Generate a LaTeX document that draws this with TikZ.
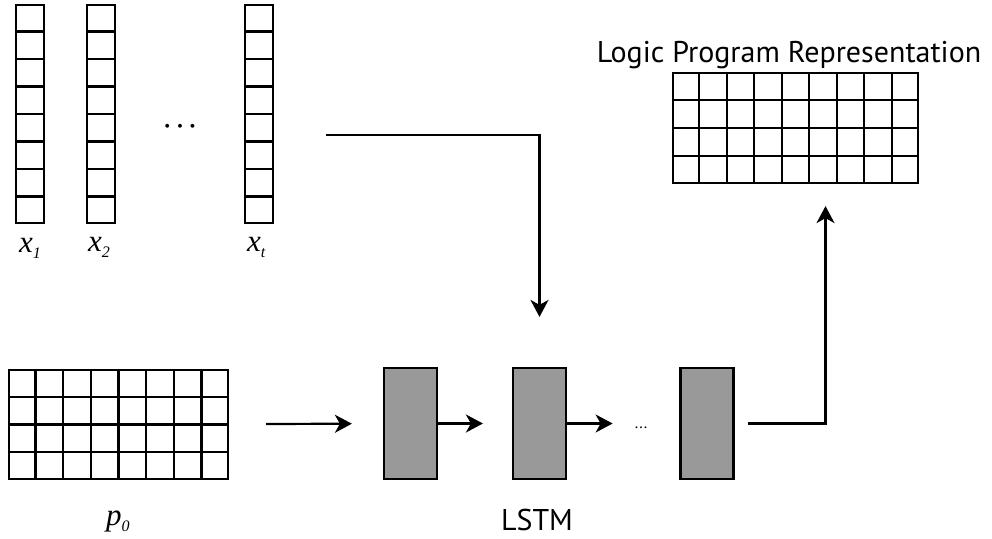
\documentclass[tikz,border=0pt]{standalone}
\usepackage{fontspec}
\setmainfont{Liberation Serif}
\newfontfamily\labelsans{PT Sans}
\usetikzlibrary{arrows.meta,calc}
\definecolor{lstmgray}{RGB}{153,153,153}
\newcommand{\vsub}[1]{\raisebox{-6pt}{\fontsize{16}{16}\selectfont #1}}

\begin{document}
\begin{tikzpicture}[x=1pt,y=-1pt,
    vec/.style={draw,line width=2.2pt,inner sep=0pt,minimum width=28pt,minimum height=218pt},
    mat/.style={draw,line width=2.2pt,inner sep=0pt},
    cell/.style={draw,fill=lstmgray,line width=2.2pt,inner sep=0pt,minimum width=53pt,minimum height=111pt},
    lbl/.style={font=\fontsize{31}{34}\selectfont\itshape,inner sep=0pt,anchor=base west},
    caption/.style={font=\labelsans\fontsize{30}{34}\selectfont,inner sep=0pt,anchor=base},
    flow/.style={line width=2.2pt,-{Stealth[length=17pt,width=18pt,inset=5pt]}}]
  \useasboundingbox (0,0) rectangle (992,538);
  \node[vec] (x1) at (30,114) {};
  \node[vec] (x2) at (101,114) {};
  \node[vec] (xt) at (259,114) {};
  \foreach \v in {x1,x2,xt}
    \foreach \i in {1,...,7}
      \draw[line width=2.2pt] ($(\v.north west)!\i/8!(\v.south west)$) -- ($(\v.north east)!\i/8!(\v.south east)$);
  \node[font=\fontsize{30}{32}\selectfont\boldmath,inner sep=0pt] (xdots) at (180,127) {$\cdots$};
  \node[lbl] (x1lbl) at (19,252) {x\vsub{1}};
  \node[lbl] (x2lbl) at (88,251) {x\vsub{2}};
  \node[lbl] (xtlbl) at (247,251) {x\vsub{t}};
  \node[mat,minimum width=219pt,minimum height=109pt] (p0) at (118.5,424.5) {};
  \foreach \i in {1,...,7}
    \draw[line width=2.2pt] ($(p0.north west)!\i/8!(p0.north east)$) -- ($(p0.south west)!\i/8!(p0.south east)$);
  \foreach \i in {1,...,3}
    \draw[line width=2.2pt] ($(p0.north west)!\i/4!(p0.south west)$) -- ($(p0.north east)!\i/4!(p0.south east)$);
  \node[lbl] (p0lbl) at (106,525) {p\vsub{0}};
  \node[mat,minimum width=245pt,minimum height=110pt] (lpr) at (795.5,128) {};
  \foreach \i in {1,...,8}
    \draw[line width=2.2pt] ($(lpr.north west)!\i/9!(lpr.north east)$) -- ($(lpr.south west)!\i/9!(lpr.south east)$);
  \foreach \i in {1,...,3}
    \draw[line width=2.2pt] ($(lpr.north west)!\i/4!(lpr.south west)$) -- ($(lpr.north east)!\i/4!(lpr.south east)$);
  \node[caption] (lprlbl) at (789,62) {Logic Program Representation};
  \node[cell] (lstm1) at (410.5,423.5) {};
  \node[cell] (lstm2) at (539.5,423.5) {};
  \node[cell] (lstm3) at (707,423.5) {};
  \node[font=\labelsans\fontsize{16}{18}\selectfont,inner sep=0pt,anchor=base] (ldots) at (641,428) {...};
  \node[caption] (lstmlbl) at (537,530) {LSTM};
  \draw[flow,shorten <=37pt,shorten >=31pt] (p0) -- (lstm1);
  \draw[flow,shorten >=29pt] (lstm1) -- (lstm2);
  \draw[flow,shorten >=22pt] (lstm2.east) -- (lstm2.east -| ldots.west);
  \draw[flow,shorten <=13pt,shorten >=22pt] (lstm3.east) -| ([xshift=30pt]lpr.south);
  \draw[flow,shorten <=52pt,shorten >=50pt] ([yshift=-21pt]xt.east) -| (lstm2.north);
\end{tikzpicture}
\end{document}
